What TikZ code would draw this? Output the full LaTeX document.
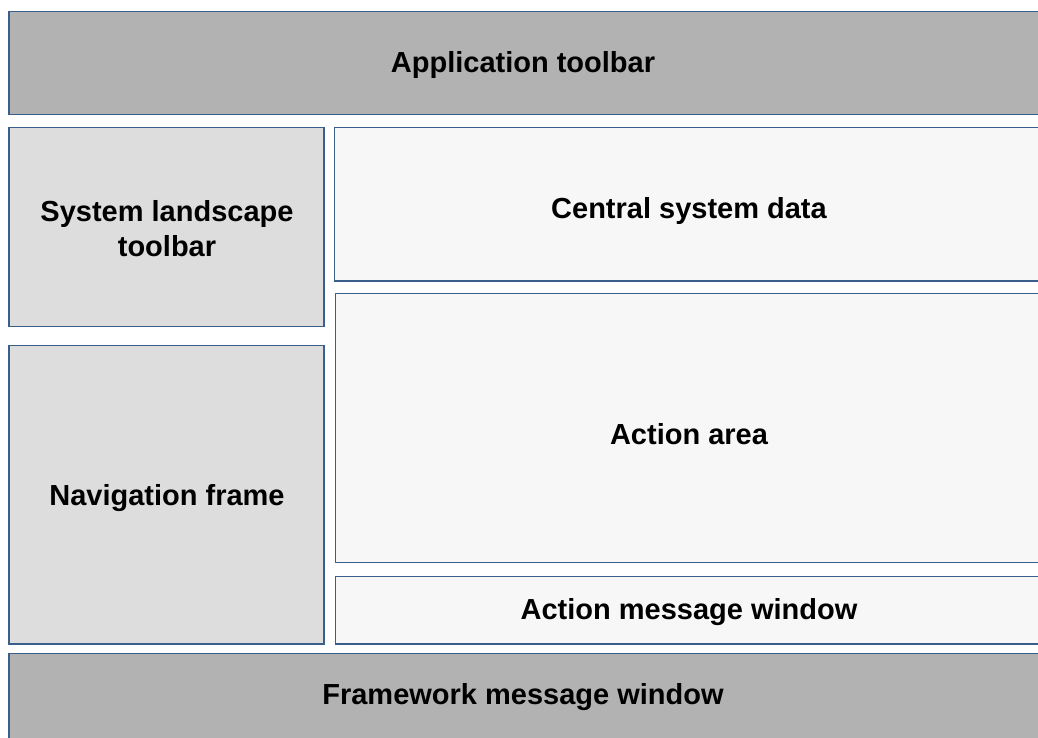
\documentclass[tikz,border=0pt]{standalone}
\usepackage{fontspec}
\setmainfont{Liberation Sans}
\definecolor{edge}{HTML}{3A5F8A}
\definecolor{darkfill}{HTML}{B2B2B2}
\definecolor{midfill}{HTML}{DDDDDD}
\definecolor{lightfill}{HTML}{F7F7F7}
\tikzset{
  panel/.style={draw=edge, line width=1.5pt},
  dark/.style={panel, fill=darkfill},
  mid/.style={panel, fill=midfill},
  light/.style={panel, fill=lightfill},
  lbl/.style={font=\fontsize{29}{35.5}\selectfont\bfseries, align=center, text=black}
}
\begin{document}
\begin{tikzpicture}[x=1pt, y=-1pt]
  \useasboundingbox (0,0) rectangle (1038,737);
  \clip (0,0) rectangle (1038,737);
  % panels
  \draw[dark]  (9,11.5)  rectangle (1050,114.5);
  \draw[mid]   (9,127.5) rectangle (324,326.5);
  \draw[mid]   (9,345.5) rectangle (324,644);
  \draw[light] (334.5,127.5) rectangle (1050,281);
  \draw[light] (335.5,293.5) rectangle (1050,562.5);
  \draw[light] (335.5,576.5) rectangle (1050,644);
  \draw[dark]  (9,653.5) rectangle (1050,750);
  % labels
  \node[lbl] (apptb)  at (523,65)   {Application toolbar};
  \node[lbl] (systb)  at (167,228.5) {System landscape\\toolbar};
  \node[lbl] (nav)    at (167,498)  {Navigation frame};
  \node[lbl] (csd)    at (689,210.5) {Central system data};
  \node[lbl] (action) at (689,434.5) {Action area};
  \node[lbl] (amw)    at (689,612.5) {Action message window};
  \node[lbl] (fmw)    at (523,697.5) {Framework message window};
\end{tikzpicture}
\end{document}
